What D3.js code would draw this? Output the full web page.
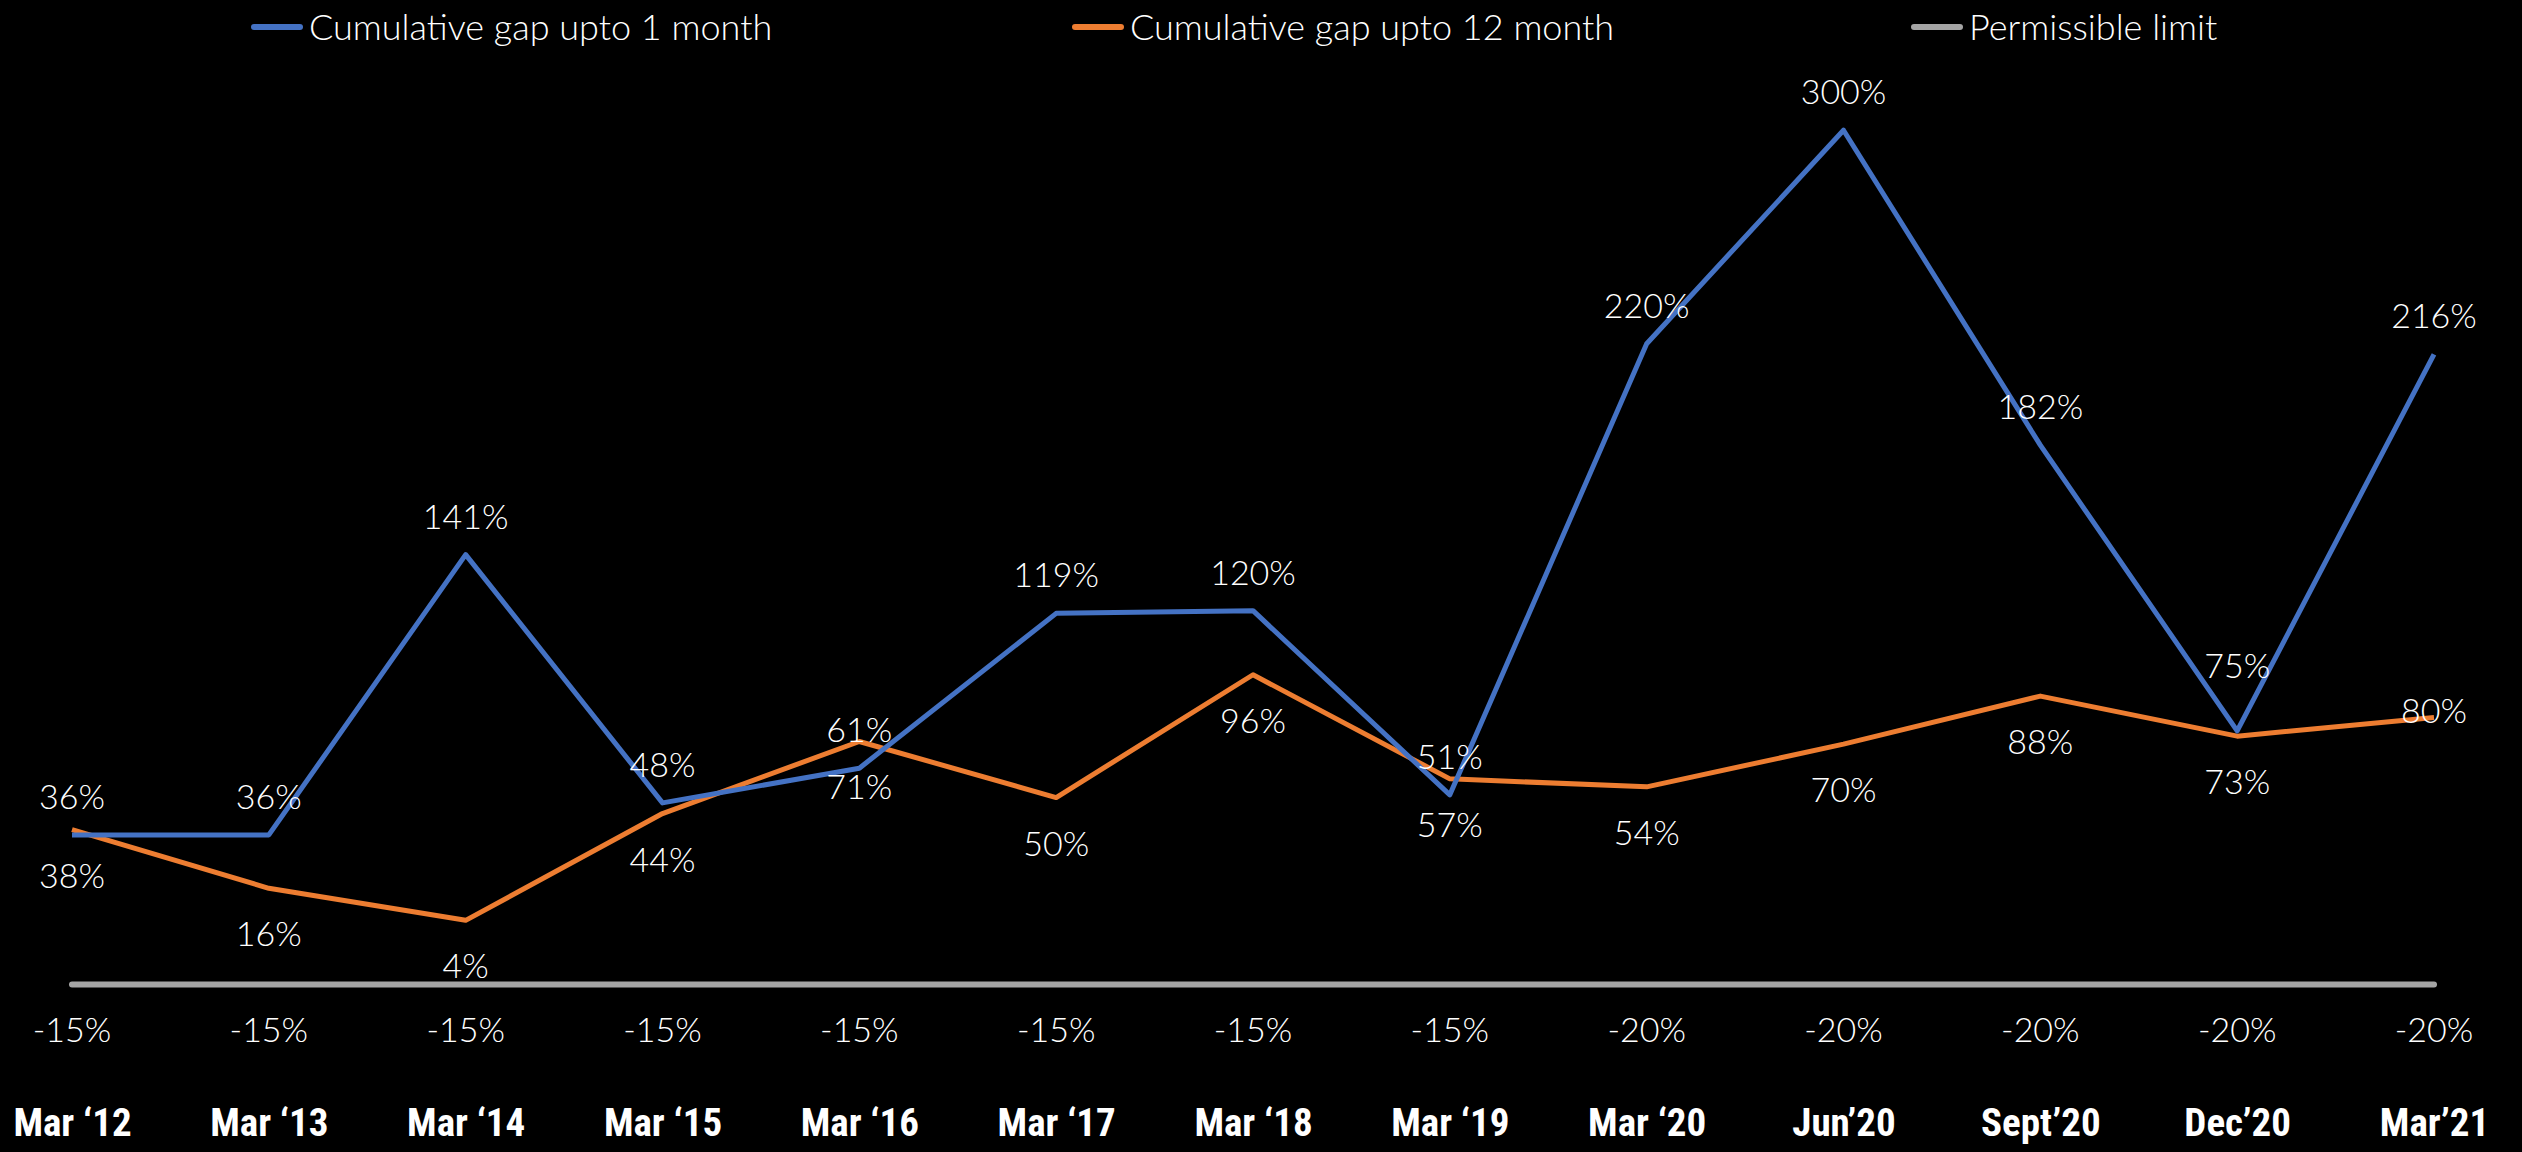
<!DOCTYPE html>
<html>
<head>
<meta charset="utf-8">
<script src="https://cdn.jsdelivr.net/npm/d3@7"></script>
<style>
  html, body { margin: 0; padding: 0; background: #000; }
  svg { display: block; }
</style>
</head>
<body>
<script>
// periods on the x axis
var periods = ["Mar \u201812", "Mar \u201813", "Mar \u201814", "Mar \u201815", "Mar \u201816",
    "Mar \u201817", "Mar \u201818", "Mar \u201819", "Mar \u201820", "Jun\u201920",
    "Sept\u201920", "Dec\u201920", "Mar\u201921"];
// cumulative gap upto 1 month (%)
var gap1m = [36, 36, 141, 48, 61, 119, 120, 51, 220, 300, 182, 75, 216];
// cumulative gap upto 12 month (%)
var gap12m = [38, 16, 4, 44, 71, 50, 96, 57, 54, 70, 88, 73, 80];
// permissible limit as labelled
var limitLabels = [-15, -15, -15, -15, -15, -15, -15, -15, -20, -20, -20, -20, -20];
// permissible limit as drawn (flat line in the picture)
var limitDrawn = [-20, -20, -20, -20, -20, -20, -20, -20, -20, -20, -20, -20, -20];

var width = 2522;
var height = 1152;

var svg = d3.select("body")
    .append("svg")
    .attr("width", width)
    .attr("height", height)
    .style("background", "#000");

var x = d3.scalePoint()
    .domain(periods)
    .range([72, 2434]);

var y = d3.scaleLinear()
    .domain([-20, 300])
    .range([984.4, 130.2]);

var labelFont = "Lato, 'Open Sans', 'Liberation Sans', sans-serif";

var line = d3.line()
    .x(function(d, i) { return x(periods[i]); })
    .y(function(d) { return y(d); });

// permissible limit line
svg.append("path")
    .datum(limitDrawn)
    .attr("d", line)
    .attr("fill", "none")
    .attr("stroke", "#a5a5a5")
    .attr("stroke-width", 6)
    .attr("stroke-linecap", "round");

// series lines
svg.append("path")
    .datum(gap12m)
    .attr("d", line)
    .attr("fill", "none")
    .attr("stroke", "#ed7d31")
    .attr("stroke-width", 5)
    .attr("stroke-linejoin", "round");

svg.append("path")
    .datum(gap1m)
    .attr("d", line)
    .attr("fill", "none")
    .attr("stroke", "#4472c4")
    .attr("stroke-width", 5)
    .attr("stroke-linejoin", "round");

// data labels: blue above, orange below
svg.selectAll("text.l1")
    .data(gap1m)
    .enter()
    .append("text")
    .attr("class", "l1")
    .attr("x", function(d, i) { return x(periods[i]); })
    .attr("y", function(d, i) { return y(d) - (i === 11 ? 53 : 26); })
    .attr("text-anchor", "middle")
    .style("font-family", labelFont)
    .style("font-weight", 300)
    .style("font-size", "34px")
    .style("fill", "#fff")
    .text(function(d) { return d + "%"; });

svg.selectAll("text.l12")
    .data(gap12m)
    .enter()
    .append("text")
    .attr("class", "l12")
    .attr("x", function(d, i) { return x(periods[i]); })
    .attr("y", function(d, i) { return y(d) + (i === 12 ? 6 : 58); })
    .attr("text-anchor", "middle")
    .style("font-family", labelFont)
    .style("font-weight", 300)
    .style("font-size", "34px")
    .style("fill", "#fff")
    .text(function(d) { return d + "%"; });

// permissible limit labels
svg.selectAll("text.lim")
    .data(limitLabels)
    .enter()
    .append("text")
    .attr("class", "lim")
    .attr("x", function(d, i) { return x(periods[i]); })
    .attr("y", 1042)
    .attr("text-anchor", "middle")
    .style("font-family", labelFont)
    .style("font-weight", 300)
    .style("font-size", "34px")
    .style("fill", "#fff")
    .text(function(d) { return d + "%"; });

// x axis (categories), no domain line or ticks
var xAxis = svg.append("g")
    .attr("transform", "translate(0,1136)")
    .call(d3.axisBottom(x).tickSize(0).tickPadding(0));
xAxis.select(".domain").remove();
xAxis.selectAll("text")
    .attr("dy", 0)
    .style("font-family", "'Liberation Sans Narrow', 'Roboto Condensed', sans-serif")
    .style("font-weight", "bold")
    .style("font-size", "39px")
    .style("fill", "#fff");

// legend
var legendItems = [
    { name: "Cumulative gap upto 1 month", color: "#4472c4", x: 252 },
    { name: "Cumulative gap upto 12 month", color: "#ed7d31", x: 1073 },
    { name: "Permissible limit", color: "#a5a5a5", x: 1912 }
];
var legend = svg.selectAll("g.legend")
    .data(legendItems)
    .enter()
    .append("g")
    .attr("class", "legend")
    .attr("transform", function(d) { return "translate(" + d.x + ",27)"; });
legend.append("line")
    .attr("x1", 2).attr("x2", 48)
    .attr("y1", 0).attr("y2", 0)
    .attr("stroke", function(d) { return d.color; })
    .attr("stroke-width", 6)
    .attr("stroke-linecap", "round");
legend.append("text")
    .attr("x", 57)
    .attr("y", 13)
    .style("font-family", labelFont)
    .style("font-weight", 300)
    .style("font-size", "36px")
    .style("fill", "#fff")
    .text(function(d) { return d.name; });
</script>
</body>
</html>
